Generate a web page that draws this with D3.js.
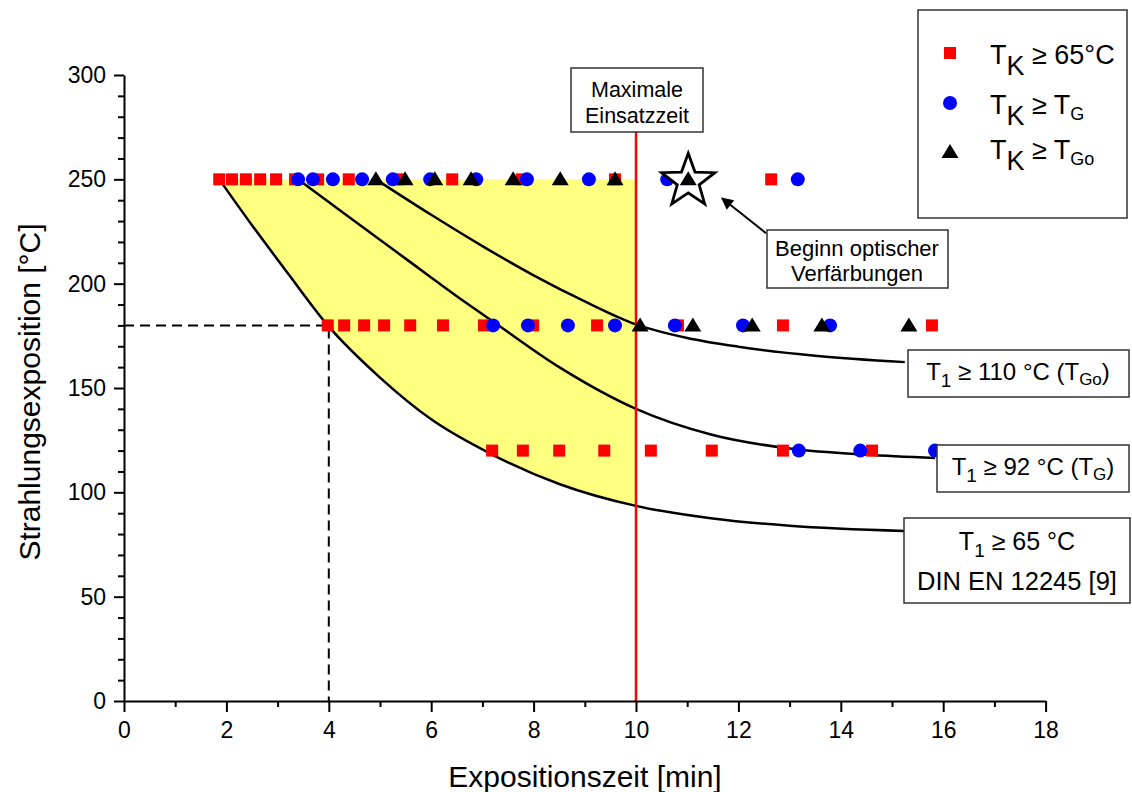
<!DOCTYPE html>
<html><head><meta charset="utf-8">
<script src="https://cdn.jsdelivr.net/npm/d3@7"></script>
<style>
body{margin:0;background:#fff}
text{font-family:"Liberation Sans",Arial,sans-serif;fill:#000}
</style>
</head><body>
<svg id="c" width="1132" height="792"></svg>
<script>
// ---------- data ----------
const xTicks=[0,2,4,6,8,10,12,14,16,18];
const yTicks=[0,50,100,150,200,250,300];

// T_K >= 65°C (red squares)
const sq250=[1.86,2.11,2.38,2.66,2.97,3.34,3.79,4.39,5.35,6.41,7.77,9.59,12.64];
const sq180=[3.98,4.30,4.69,5.08,5.59,6.23,7.03,7.99,9.24,10.82,12.87,15.78];
const sq120=[7.19,7.79,8.50,9.38,10.29,11.48,12.87,14.61];
// T_K >= T_G (blue circles)
const ci250=[3.40,3.69,4.08,4.65,5.25,5.98,6.88,7.87,9.08,10.61,13.16];
const ci180=[7.21,7.89,8.67,9.59,10.76,12.09,13.79];
const ci120=[13.18,14.38,15.84];
// T_K >= T_Go (black triangles)
const tr250=[4.92,5.49,6.07,6.78,7.60,8.52,9.59,11.02];
const tr180=[10.08,11.11,12.27,13.63,15.33];

// limit curves
const c65X=[1.86,2.5,3.2,3.98,5,6,7.2,8.5,10,11.5,13,15.25];
const c65Y=[250,228,205,180,155,135,118,104,93.5,87.5,84,81.5];
const c92X=[3.4,4.5,5.5,6.5,7.2,8.5,10,11.5,13,14.5,15.84];
const c92Y=[250,230,212,194,182,160,140,127.5,121,118,116.5];
const c110X=[4.92,6,7,8,9,10,11,12,13.5,15.25];
const c110Y=[250,233,218,204,191.5,180.5,174,169.8,165.5,162.4];

const starPt=[11.02,250];
const maxTime=10;
const refPoint=[4,180];

// ---------- setup ----------
const svg=d3.select("#c");
const x=d3.scaleLinear().domain([0,18]).range([124,1045.6]);
const y=d3.scaleLinear().domain([0,300]).range([701,75]);
const zip=(a,b)=>a.map((v,i)=>[v,b[i]]);
const c65=zip(c65X,c65Y), c92=zip(c92X,c92Y), c110=zip(c110X,c110Y);

// yellow region
const yel=c65.filter(d=>d[0]<=maxTime);
svg.append("path")
  .attr("d",d3.area().x(d=>x(d[0])).y0(d=>y(d[1])).y1(y(250)).curve(d3.curveMonotoneX)(yel))
  .attr("fill","#ffff80");

// curves
const line=d3.line().x(d=>x(d[0])).y(d=>y(d[1])).curve(d3.curveMonotoneX);
[c65,c92,c110].forEach(c=>svg.append("path").attr("d",line(c)).attr("fill","none").attr("stroke","#000").attr("stroke-width",2.5));

// dashed reference lines
svg.append("path").attr("d",`M${x(0)},${y(refPoint[1])}H${x(refPoint[0])}V${y(0)}`)
  .attr("fill","none").attr("stroke","#000").attr("stroke-width",2).attr("stroke-dasharray","10,6");

// red max line
svg.append("line").attr("x1",x(maxTime)).attr("x2",x(maxTime)).attr("y1",132).attr("y2",y(0))
  .attr("stroke","#ff0000").attr("stroke-width",2.5);

// points
const pts=(arr,v)=>arr.map(a=>[a,v]);
const squares=[...pts(sq250,250),...pts(sq180,180),...pts(sq120,120)];
const circles=[...pts(ci250,250),...pts(ci180,180),...pts(ci120,120)];
const tris=[...pts(tr250,250),...pts(tr180,180)];
svg.append("g").selectAll("rect").data(squares).join("rect")
  .attr("x",d=>x(d[0])-6).attr("y",d=>y(d[1])-6).attr("width",12).attr("height",12).attr("fill","#ff0000");
svg.append("g").selectAll("circle").data(circles).join("circle")
  .attr("cx",d=>x(d[0])).attr("cy",d=>y(d[1])).attr("r",7).attr("fill","#0000ff");

// star
function starPath(cx,cy,R,r){
  let p=[];
  for(let i=0;i<10;i++){const a=-Math.PI/2+i*Math.PI/5;const rr=i%2?r:R;p.push([cx+rr*Math.cos(a),cy+rr*Math.sin(a)]);}
  return "M"+p.map(q=>q.join(",")).join("L")+"Z";
}
svg.append("path").attr("d",starPath(x(starPt[0]),y(starPt[1])+2,28,11.5)).attr("fill","#fff").attr("stroke","#000").attr("stroke-width",2.8);

const triPath=(cx,cy)=>`M${cx},${cy-8}L${cx+8.5},${cy+6}L${cx-8.5},${cy+6}Z`;
svg.append("g").selectAll("path").data(tris).join("path")
  .attr("d",d=>triPath(x(d[0]),y(d[1]))).attr("fill","#000");

// ---------- axes ----------
const gx=svg.append("g").attr("transform",`translate(0,${y(0)})`);
gx.call(d3.axisBottom(x).tickValues(xTicks).tickSize(11).tickSizeOuter(0).tickPadding(10).tickFormat(d3.format("d")));
const gxm=svg.append("g").attr("transform",`translate(0,${y(0)})`);
gxm.call(d3.axisBottom(x).tickValues(d3.range(1,18,2)).tickSize(6).tickFormat(""));
gxm.select(".domain").remove();
const gy=svg.append("g").attr("transform",`translate(${x(0)},0)`);
gy.call(d3.axisLeft(y).tickValues(yTicks).tickSize(10).tickSizeOuter(0).tickPadding(8).tickFormat(d3.format("d")));
const gym=svg.append("g").attr("transform",`translate(${x(0)},0)`);
gym.call(d3.axisLeft(y).tickValues(d3.range(10,300,10).filter(v=>v%50)).tickSize(6).tickFormat(""));
gym.select(".domain").remove();
svg.selectAll(".domain").attr("stroke","#000").attr("stroke-width",2);
svg.selectAll(".tick line").attr("stroke","#000").attr("stroke-width",2);
svg.selectAll(".tick text").attr("font-size",23).attr("font-family","Liberation Sans, Arial, sans-serif").attr("fill","#000");

svg.append("text").attr("x",585).attr("y",787).attr("text-anchor","middle").attr("font-size",30).text("Expositionszeit [min]");
svg.append("text").attr("transform","translate(40,392) rotate(-90)").attr("text-anchor","middle").attr("font-size",30).text("Strahlungsexposition [°C]");

// ---------- annotation helpers ----------
function rich(g,xx,yy,parts,anchor){
  const t=g.append("text").attr("x",xx).attr("y",yy).attr("text-anchor",anchor||"start");
  let shift=0;
  parts.forEach(p=>{
    const s=t.append("tspan").attr("font-size",p.size).text(p.t);
    const target=p.dy||0;
    if(target!==shift){s.attr("dy",target-shift);shift=target;}
  });
  return t;
}
function box(x0,y0,w,h){
  svg.append("rect").attr("x",x0).attr("y",y0).attr("width",w).attr("height",h)
    .attr("fill","#fff").attr("stroke","#333").attr("stroke-width",1.5);
}

// Maximale Einsatzzeit
box(571,68,132,64);
svg.append("text").attr("x",637).attr("y",97).attr("text-anchor","middle").attr("font-size",21.5).text("Maximale");
svg.append("text").attr("x",637).attr("y",123).attr("text-anchor","middle").attr("font-size",21.5).text("Einsatzzeit");

// arrow + Beginn box
svg.append("defs").append("marker").attr("id","ah").attr("viewBox","0 0 10 10").attr("refX",9).attr("refY",5)
  .attr("markerWidth",7).attr("markerHeight",6).attr("markerUnits","strokeWidth").attr("orient","auto")
  .append("path").attr("d","M0,0L10,5L0,10Z").attr("fill","#000");
svg.append("line").attr("x1",x(12.54)).attr("y1",y(224.2)).attr("x2",x(11.68)).attr("y2",y(240.9))
  .attr("stroke","#000").attr("stroke-width",2).attr("marker-end","url(#ah)");
box(767,230,181,58);
svg.append("text").attr("x",857).attr("y",256).attr("text-anchor","middle").attr("font-size",22).text("Beginn optischer");
svg.append("text").attr("x",857).attr("y",281).attr("text-anchor","middle").attr("font-size",22).text("Verfärbungen");

// legend
box(918,10,209,208);
svg.append("rect").attr("x",944).attr("y",47).attr("width",12).attr("height",12).attr("fill","#ff0000");
svg.append("circle").attr("cx",950).attr("cy",103).attr("r",7).attr("fill","#0000ff");
svg.append("path").attr("d",triPath(950,152)).attr("fill","#000");
const lg=svg.append("g");
rich(lg,990,64,[{t:"T",size:27},{t:"K",size:27,dy:11},{t:" ≥ 65°C",size:27}]);
rich(lg,990,114,[{t:"T",size:27},{t:"K",size:27,dy:11},{t:" ≥ T",size:27},{t:"G",size:18,dy:6}]);
rich(lg,990,159,[{t:"T",size:27},{t:"K",size:27,dy:11},{t:" ≥ T",size:27},{t:"Go",size:18,dy:6}]);

// curve labels
box(908,350,221,47);
rich(svg,1018,380,[{t:"T",size:24},{t:"1",size:19,dy:7},{t:" ≥ 110 °C (T",size:24},{t:"Go",size:17,dy:5},{t:")",size:24}],"middle");
box(937,445,192,47);
rich(svg,1033,475,[{t:"T",size:24},{t:"1",size:19,dy:7},{t:" ≥ 92 °C (T",size:24},{t:"G",size:17,dy:5},{t:")",size:24}],"middle");
box(904,518,226,85);
rich(svg,1017,550,[{t:"T",size:25},{t:"1",size:19,dy:7},{t:" ≥ 65 °C",size:25}],"middle");
svg.append("text").attr("x",1017).attr("y",590).attr("text-anchor","middle").attr("font-size",25.5).text("DIN EN 12245 [9]");
</script>
</body></html>
